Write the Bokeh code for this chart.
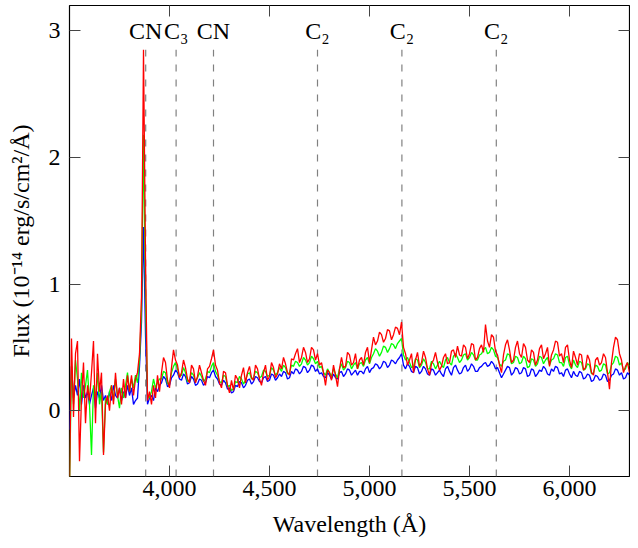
from bokeh.plotting import figure
from bokeh.models import Range1d, LinearAxis, NumeralTickFormatter, FixedTicker, CustomJSTickFormatter, ColumnDataSource
from bokeh.embed import file_html
from bokeh.resources import INLINE
from bokeh.core.properties import value

# wavelength grid (Angstrom), 10 A sampling
wavelength = list(range(3500, 6301, 10))

flux_blue = [
    # 3500-3950
    -0.15, 0.35, 0.10, 0.20, 0.12, 0.25, 0.05, 0.20, 0.10, 0.15,
    0.05, 0.12, 0.18, 0.02, 0.15, 0.10, 0.20, 0.08, 0.12, 0.05,
    0.15, 0.08, 0.20, 0.12, 0.10, 0.18, 0.08, 0.15, 0.10, 0.20,
    0.12, 0.18, 0.05, 0.08, 0.10, 0.35, 0.70, 1.45, 0.60, 0.05,
    0.10, 0.12, 0.08, 0.18, 0.15, 0.20,
    # 3960-6300
    0.22, 0.27, 0.25, 0.19, 0.20, 0.26, 0.28, 0.32, 0.30, 0.25, 0.24, 0.29, 0.27, 0.21, 0.22, 0.27, 0.25, 0.20, 0.21, 0.25,
    0.24, 0.20, 0.22, 0.27, 0.26, 0.30, 0.32, 0.27, 0.25, 0.21, 0.20, 0.24, 0.22, 0.17, 0.18, 0.14, 0.15, 0.20, 0.19, 0.23,
    0.22, 0.18, 0.20, 0.24, 0.25, 0.21, 0.23, 0.27, 0.26, 0.23, 0.22, 0.26, 0.27, 0.23, 0.24, 0.29, 0.28, 0.24, 0.26, 0.29,
    0.27, 0.31, 0.30, 0.25, 0.26, 0.31, 0.29, 0.33, 0.32, 0.29, 0.31, 0.35, 0.34, 0.30, 0.32, 0.36, 0.35, 0.31, 0.33, 0.29,
    0.30, 0.27, 0.26, 0.30, 0.28, 0.25, 0.29, 0.26, 0.25, 0.30, 0.31, 0.27, 0.29, 0.33, 0.32, 0.28, 0.30, 0.32, 0.28, 0.31,
    0.31, 0.29, 0.33, 0.35, 0.30, 0.33, 0.34, 0.37, 0.36, 0.33, 0.35, 0.39, 0.38, 0.34, 0.36, 0.40, 0.39, 0.37, 0.40, 0.42,
    0.45, 0.36, 0.33, 0.37, 0.35, 0.31, 0.30, 0.35, 0.34, 0.29, 0.31, 0.35, 0.33, 0.29, 0.28, 0.33, 0.32, 0.28, 0.30, 0.32,
    0.29, 0.27, 0.33, 0.35, 0.31, 0.28, 0.34, 0.36, 0.32, 0.29, 0.30, 0.34, 0.36, 0.31, 0.33, 0.37, 0.35, 0.31, 0.31, 0.34,
    0.35, 0.37, 0.38, 0.35, 0.36, 0.39, 0.37, 0.33, 0.34, 0.30, 0.26, 0.29, 0.32, 0.35, 0.34, 0.28, 0.30, 0.34, 0.33, 0.29,
    0.30, 0.34, 0.33, 0.27, 0.28, 0.33, 0.32, 0.27, 0.29, 0.32, 0.31, 0.35, 0.33, 0.29, 0.28, 0.33, 0.31, 0.35, 0.34, 0.29,
    0.30, 0.27, 0.32, 0.33, 0.29, 0.26, 0.31, 0.28, 0.27, 0.31, 0.30, 0.25, 0.26, 0.29, 0.28, 0.23, 0.24, 0.28, 0.27, 0.24,
    0.25, 0.29, 0.28, 0.23, 0.24, 0.28, 0.29, 0.33, 0.32, 0.28, 0.30, 0.25, 0.26, 0.30, 0.28,
]

flux_green = [
    # 3500-3950
    -0.60, 0.35, 0.05, 0.40, 0.25, 0.00, 0.30, 0.10, 0.20, 0.32,
    0.05, -0.35, 0.20, 0.10, 0.30, 0.05, 0.15, -0.33, 0.10, 0.05,
    0.15, 0.20, 0.08, 0.25, 0.12, 0.02, 0.18, 0.10, 0.20, 0.30,
    0.15, 0.25, 0.18, 0.28, 0.22, 0.40, 0.80, 2.18, 0.90, 0.12,
    0.10, 0.15, 0.25, 0.18, 0.22, 0.25,
    # 3960-6300
    0.25, 0.31, 0.30, 0.21, 0.22, 0.30, 0.35, 0.38, 0.33, 0.27, 0.28, 0.34, 0.30, 0.23, 0.24, 0.30, 0.28, 0.23, 0.26, 0.30,
    0.27, 0.23, 0.25, 0.31, 0.30, 0.35, 0.38, 0.31, 0.28, 0.23, 0.22, 0.28, 0.27, 0.19, 0.20, 0.16, 0.17, 0.23, 0.22, 0.27,
    0.25, 0.21, 0.24, 0.29, 0.30, 0.25, 0.26, 0.31, 0.30, 0.26, 0.27, 0.32, 0.31, 0.27, 0.28, 0.34, 0.32, 0.28, 0.30, 0.34,
    0.31, 0.36, 0.34, 0.29, 0.30, 0.36, 0.35, 0.39, 0.38, 0.35, 0.37, 0.42, 0.40, 0.36, 0.38, 0.43, 0.41, 0.37, 0.39, 0.34,
    0.35, 0.30, 0.28, 0.33, 0.30, 0.27, 0.33, 0.29, 0.26, 0.33, 0.37, 0.32, 0.34, 0.39, 0.38, 0.33, 0.36, 0.38, 0.33, 0.37,
    0.38, 0.35, 0.40, 0.42, 0.37, 0.42, 0.45, 0.49, 0.47, 0.43, 0.46, 0.51, 0.50, 0.46, 0.49, 0.53, 0.52, 0.49, 0.53, 0.55,
    0.57, 0.44, 0.40, 0.42, 0.38, 0.34, 0.35, 0.41, 0.40, 0.34, 0.36, 0.41, 0.38, 0.33, 0.33, 0.39, 0.37, 0.33, 0.36, 0.39,
    0.36, 0.34, 0.40, 0.42, 0.38, 0.36, 0.43, 0.45, 0.42, 0.38, 0.40, 0.44, 0.45, 0.40, 0.42, 0.46, 0.44, 0.40, 0.40, 0.44,
    0.45, 0.48, 0.50, 0.45, 0.46, 0.50, 0.48, 0.43, 0.42, 0.37, 0.35, 0.39, 0.40, 0.45, 0.44, 0.37, 0.38, 0.43, 0.42, 0.37,
    0.38, 0.43, 0.41, 0.34, 0.35, 0.41, 0.40, 0.35, 0.37, 0.43, 0.42, 0.37, 0.40, 0.42, 0.36, 0.40, 0.41, 0.45, 0.44, 0.38,
    0.38, 0.35, 0.42, 0.43, 0.36, 0.33, 0.40, 0.36, 0.34, 0.39, 0.38, 0.32, 0.33, 0.37, 0.36, 0.29, 0.30, 0.36, 0.35, 0.31,
    0.32, 0.37, 0.36, 0.29, 0.30, 0.36, 0.38, 0.43, 0.42, 0.36, 0.38, 0.32, 0.33, 0.38, 0.35,
]

flux_red = [
    # 3500-3950
    -0.60, 0.57, -0.05, 0.45, 0.55, -0.40, 0.10, 0.38, -0.10, 0.20,
    0.08, 0.30, 0.55, -0.10, 0.45, 0.15, 0.30, -0.35, 0.05, 0.12,
    0.00, 0.20, 0.05, 0.30, 0.10, 0.18, 0.05, 0.25, 0.10, 0.28,
    0.15, 0.28, 0.12, 0.25, 0.30, 0.45, 0.90, 2.85, 1.20, 0.08,
    0.15, 0.05, 0.20, 0.10, 0.28, 0.15,
    # 3960-6300
    0.30, 0.42, 0.38, 0.24, 0.18, 0.34, 0.48, 0.40, 0.36, 0.26, 0.30, 0.40, 0.34, 0.25, 0.22, 0.36, 0.33, 0.22, 0.27, 0.36,
    0.30, 0.24, 0.20, 0.33, 0.35, 0.41, 0.48, 0.36, 0.32, 0.22, 0.18, 0.31, 0.30, 0.20, 0.14, 0.24, 0.16, 0.28, 0.25, 0.18,
    0.28, 0.34, 0.22, 0.30, 0.35, 0.26, 0.24, 0.36, 0.33, 0.25, 0.20, 0.30, 0.36, 0.24, 0.27, 0.38, 0.34, 0.26, 0.29, 0.37,
    0.33, 0.42, 0.37, 0.30, 0.28, 0.41, 0.40, 0.45, 0.49, 0.38, 0.42, 0.50, 0.46, 0.38, 0.41, 0.50, 0.48, 0.40, 0.45, 0.36,
    0.38, 0.30, 0.20, 0.32, 0.30, 0.24, 0.36, 0.28, 0.19, 0.33, 0.42, 0.34, 0.35, 0.46, 0.44, 0.36, 0.38, 0.45, 0.33, 0.40,
    0.42, 0.36, 0.46, 0.50, 0.38, 0.48, 0.58, 0.52, 0.55, 0.62, 0.60, 0.54, 0.57, 0.64, 0.63, 0.56, 0.60, 0.66, 0.65, 0.60,
    0.70, 0.50, 0.45, 0.36, 0.40, 0.45, 0.30, 0.40, 0.46, 0.35, 0.38, 0.47, 0.42, 0.33, 0.28, 0.37, 0.40, 0.46, 0.38, 0.32,
    0.35, 0.42, 0.45, 0.37, 0.38, 0.47, 0.48, 0.42, 0.51, 0.44, 0.43, 0.52, 0.50, 0.41, 0.45, 0.53, 0.52, 0.40, 0.42, 0.49,
    0.52, 0.46, 0.68, 0.55, 0.50, 0.60, 0.58, 0.47, 0.44, 0.36, 0.30, 0.44, 0.52, 0.56, 0.48, 0.38, 0.40, 0.50, 0.55, 0.45,
    0.42, 0.53, 0.50, 0.40, 0.38, 0.48, 0.46, 0.36, 0.40, 0.49, 0.52, 0.41, 0.45, 0.50, 0.35, 0.44, 0.48, 0.55, 0.54, 0.43,
    0.45, 0.38, 0.50, 0.52, 0.40, 0.34, 0.47, 0.42, 0.36, 0.45, 0.44, 0.32, 0.34, 0.44, 0.40, 0.30, 0.28, 0.40, 0.42, 0.36,
    0.38, 0.45, 0.42, 0.30, 0.17, 0.38, 0.50, 0.58, 0.56, 0.45, 0.40, 0.30, 0.35, 0.38, 0.30,
]

line_wavelengths = [3881, 4033, 4220, 4740, 5162, 5634]
line_labels = ["CN", "C\u2083", "CN", "C\u2082", "C\u2082", "C\u2082"]

x_ticks = [4000, 4500, 5000, 5500, 6000]
y_ticks = [0, 1, 2, 3]

X_MIN, X_MAX = 3500, 6300
Y_MIN, Y_MAX = -0.52, 3.2
LABEL_Y = 3.0
DASH_TOP = 2.85

FONT = "Liberation Serif"
FS = "24px"

p = figure(width=630, height=540, output_backend="svg", toolbar_location=None,
           x_range=Range1d(X_MIN, X_MAX), y_range=Range1d(Y_MIN, Y_MAX),
           min_border_left=69, min_border_right=1, min_border_top=5, min_border_bottom=64)
p.grid.visible = False
p.background_fill_color = "white"
p.border_fill_color = "white"
p.outline_line_color = "black"
p.outline_line_width = 1.2

for ax in (p.xaxis[0], p.yaxis[0]):
    ax.axis_line_color = None
    ax.major_tick_in = 11
    ax.major_tick_out = 0
    ax.minor_tick_line_color = None
    ax.major_tick_line_color = "#444444"
    ax.major_tick_line_width = 1
    ax.major_label_text_font = FONT
    ax.major_label_text_font_size = FS
    ax.major_label_text_color = "black"
    ax.axis_label_text_font = FONT
    ax.axis_label_text_font_size = FS
    ax.axis_label_text_font_style = "normal"
    ax.axis_label_text_color = "black"

p.xaxis.ticker = FixedTicker(ticks=x_ticks)
p.xaxis.formatter = NumeralTickFormatter(format="0,0")
p.xaxis.axis_label = "Wavelength (\u00c5)"
p.xaxis.major_label_standoff = 4
p.xaxis.axis_label_standoff = 12

p.yaxis.ticker = FixedTicker(ticks=y_ticks)
p.yaxis.axis_label = "Flux (10\u207b\u00b9\u2074 erg/s/cm\u00b2/\u00c5)"
p.yaxis.major_label_standoff = 9
p.yaxis.axis_label_standoff = 12

empty = CustomJSTickFormatter(code="return ''")
right_axis = LinearAxis(ticker=FixedTicker(ticks=y_ticks), formatter=empty,
                        major_tick_in=11, major_tick_out=0, axis_line_color=None,
                        minor_tick_line_color=None, major_tick_line_color="#444444",
                        major_label_standoff=0, major_label_text_font_size="0px")
top_axis = LinearAxis(ticker=FixedTicker(ticks=x_ticks), formatter=empty,
                      major_tick_in=11, major_tick_out=0, axis_line_color=None,
                      minor_tick_line_color=None, major_tick_line_color="#444444",
                      major_label_standoff=0, major_label_text_font_size="0px")
p.add_layout(right_axis, "right")
p.add_layout(top_axis, "above")

# dashed emission-band markers
p.segment(x0=line_wavelengths, y0=[Y_MIN] * len(line_wavelengths),
          x1=line_wavelengths, y1=[DASH_TOP] * len(line_wavelengths),
          line_color="#808080", line_width=1.2, line_dash="7 8")

src = ColumnDataSource(dict(wl=wavelength, b=flux_blue, g=flux_green, r=flux_red))
p.line("wl", "b", source=src, line_color="#0000ff", line_width=1.3)
p.line("wl", "g", source=src, line_color="#00ff00", line_width=1.3)
p.line("wl", "r", source=src, line_color="#ff0000", line_width=1.3)

p.text(x=line_wavelengths, y=[LABEL_Y] * len(line_wavelengths), text=line_labels,
       text_align="center", text_baseline="middle", text_font=value(FONT),
       text_font_size=FS, text_color="black")

open("out.html", "w").write(file_html(p, INLINE))
